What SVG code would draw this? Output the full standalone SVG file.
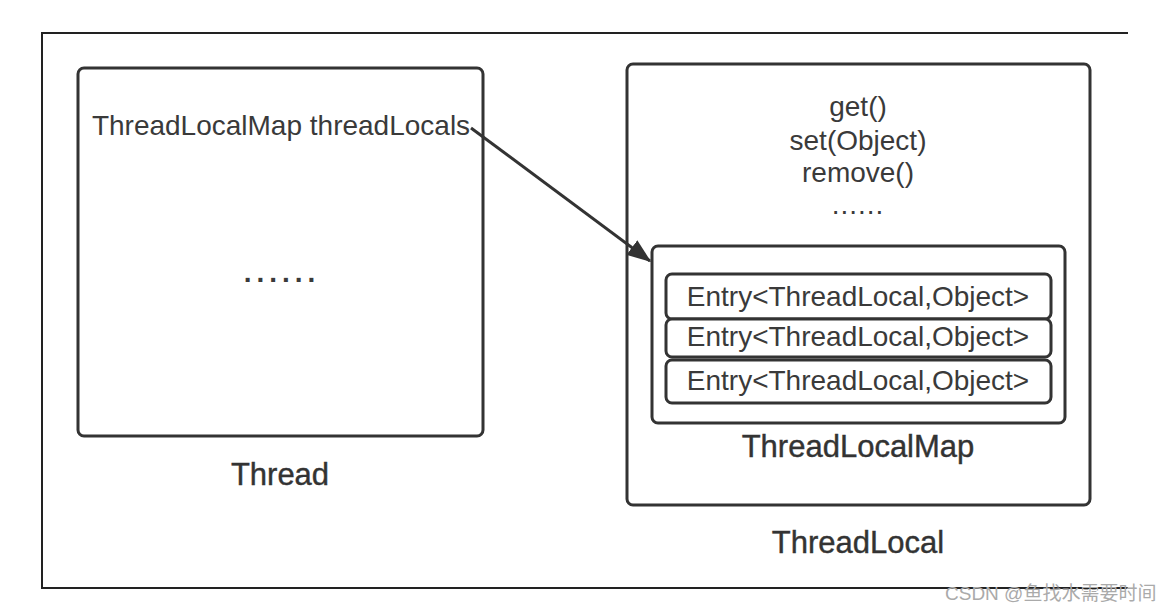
<svg xmlns="http://www.w3.org/2000/svg" width="1170" height="612" viewBox="0 0 1170 612">
<style>
  .box{fill:#fff;stroke:#333;stroke-width:3}
  .frame{fill:none;stroke:#222;stroke-width:2}
  .t{font-family:"Liberation Sans",Arial,sans-serif;font-size:28px;fill:#3a3a3a;text-anchor:middle}
  .lbl{font-family:"Liberation Sans",Arial,sans-serif;font-size:31px;fill:#333;text-anchor:middle;stroke:#333;stroke-width:0.4}
  .wm{font-family:"Liberation Sans","Noto Sans CJK SC",sans-serif;font-size:19px;fill:#aaa}
</style>
<defs>
  <marker id="arr" markerWidth="8" markerHeight="6" refX="7.5" refY="3" orient="auto" markerUnits="strokeWidth">
    <path d="M0,0 L8,3 L0,6 Z" fill="#333"/>
  </marker>
</defs>
<rect width="1170" height="612" fill="#fff"/>
<g id="frame">
  <path class="frame" d="M1128,33 H42 V588 H1128"/>
</g>
<g id="thread">
  <rect class="box" x="78" y="68" width="405" height="368" rx="6"/>
  <text class="t" x="281" y="135">ThreadLocalMap threadLocals</text>
  <text class="t" x="282" y="282" letter-spacing="5" font-weight="bold">......</text>
  <text class="lbl" x="280" y="485">Thread</text>
</g>
<g id="threadlocal">
  <rect class="box" x="627" y="64" width="463" height="441" rx="6"/>
  <text class="t" x="858" y="116">get()</text>
  <text class="t" x="858" y="150">set(Object)</text>
  <text class="t" x="858" y="182">remove()</text>
  <text class="t" x="858" y="214" letter-spacing="1">......</text>
  <text class="lbl" x="858" y="553">ThreadLocal</text>
</g>
<g id="threadlocalmap">
  <rect class="box" x="652" y="246" width="413" height="177" rx="6"/>
  <text class="lbl" x="858" y="457">ThreadLocalMap</text>
</g>
<g id="entry1">
  <rect class="box" x="666" y="274" width="385" height="45" rx="6"/>
  <text class="t" x="858" y="306">Entry&lt;ThreadLocal,Object&gt;</text>
</g>
<g id="entry2">
  <rect class="box" x="666" y="319" width="385" height="38" rx="6"/>
  <text class="t" x="858" y="346">Entry&lt;ThreadLocal,Object&gt;</text>
</g>
<g id="entry3">
  <rect class="box" x="666" y="360" width="385" height="43" rx="6"/>
  <text class="t" x="858" y="390">Entry&lt;ThreadLocal,Object&gt;</text>
</g>
<g id="connectors">
  <line x1="471" y1="128" x2="650" y2="261" stroke="#333" stroke-width="3" marker-end="url(#arr)"/>
</g>
<text class="wm" x="945" y="600">CSDN @鱼找水需要时间</text>
</svg>
